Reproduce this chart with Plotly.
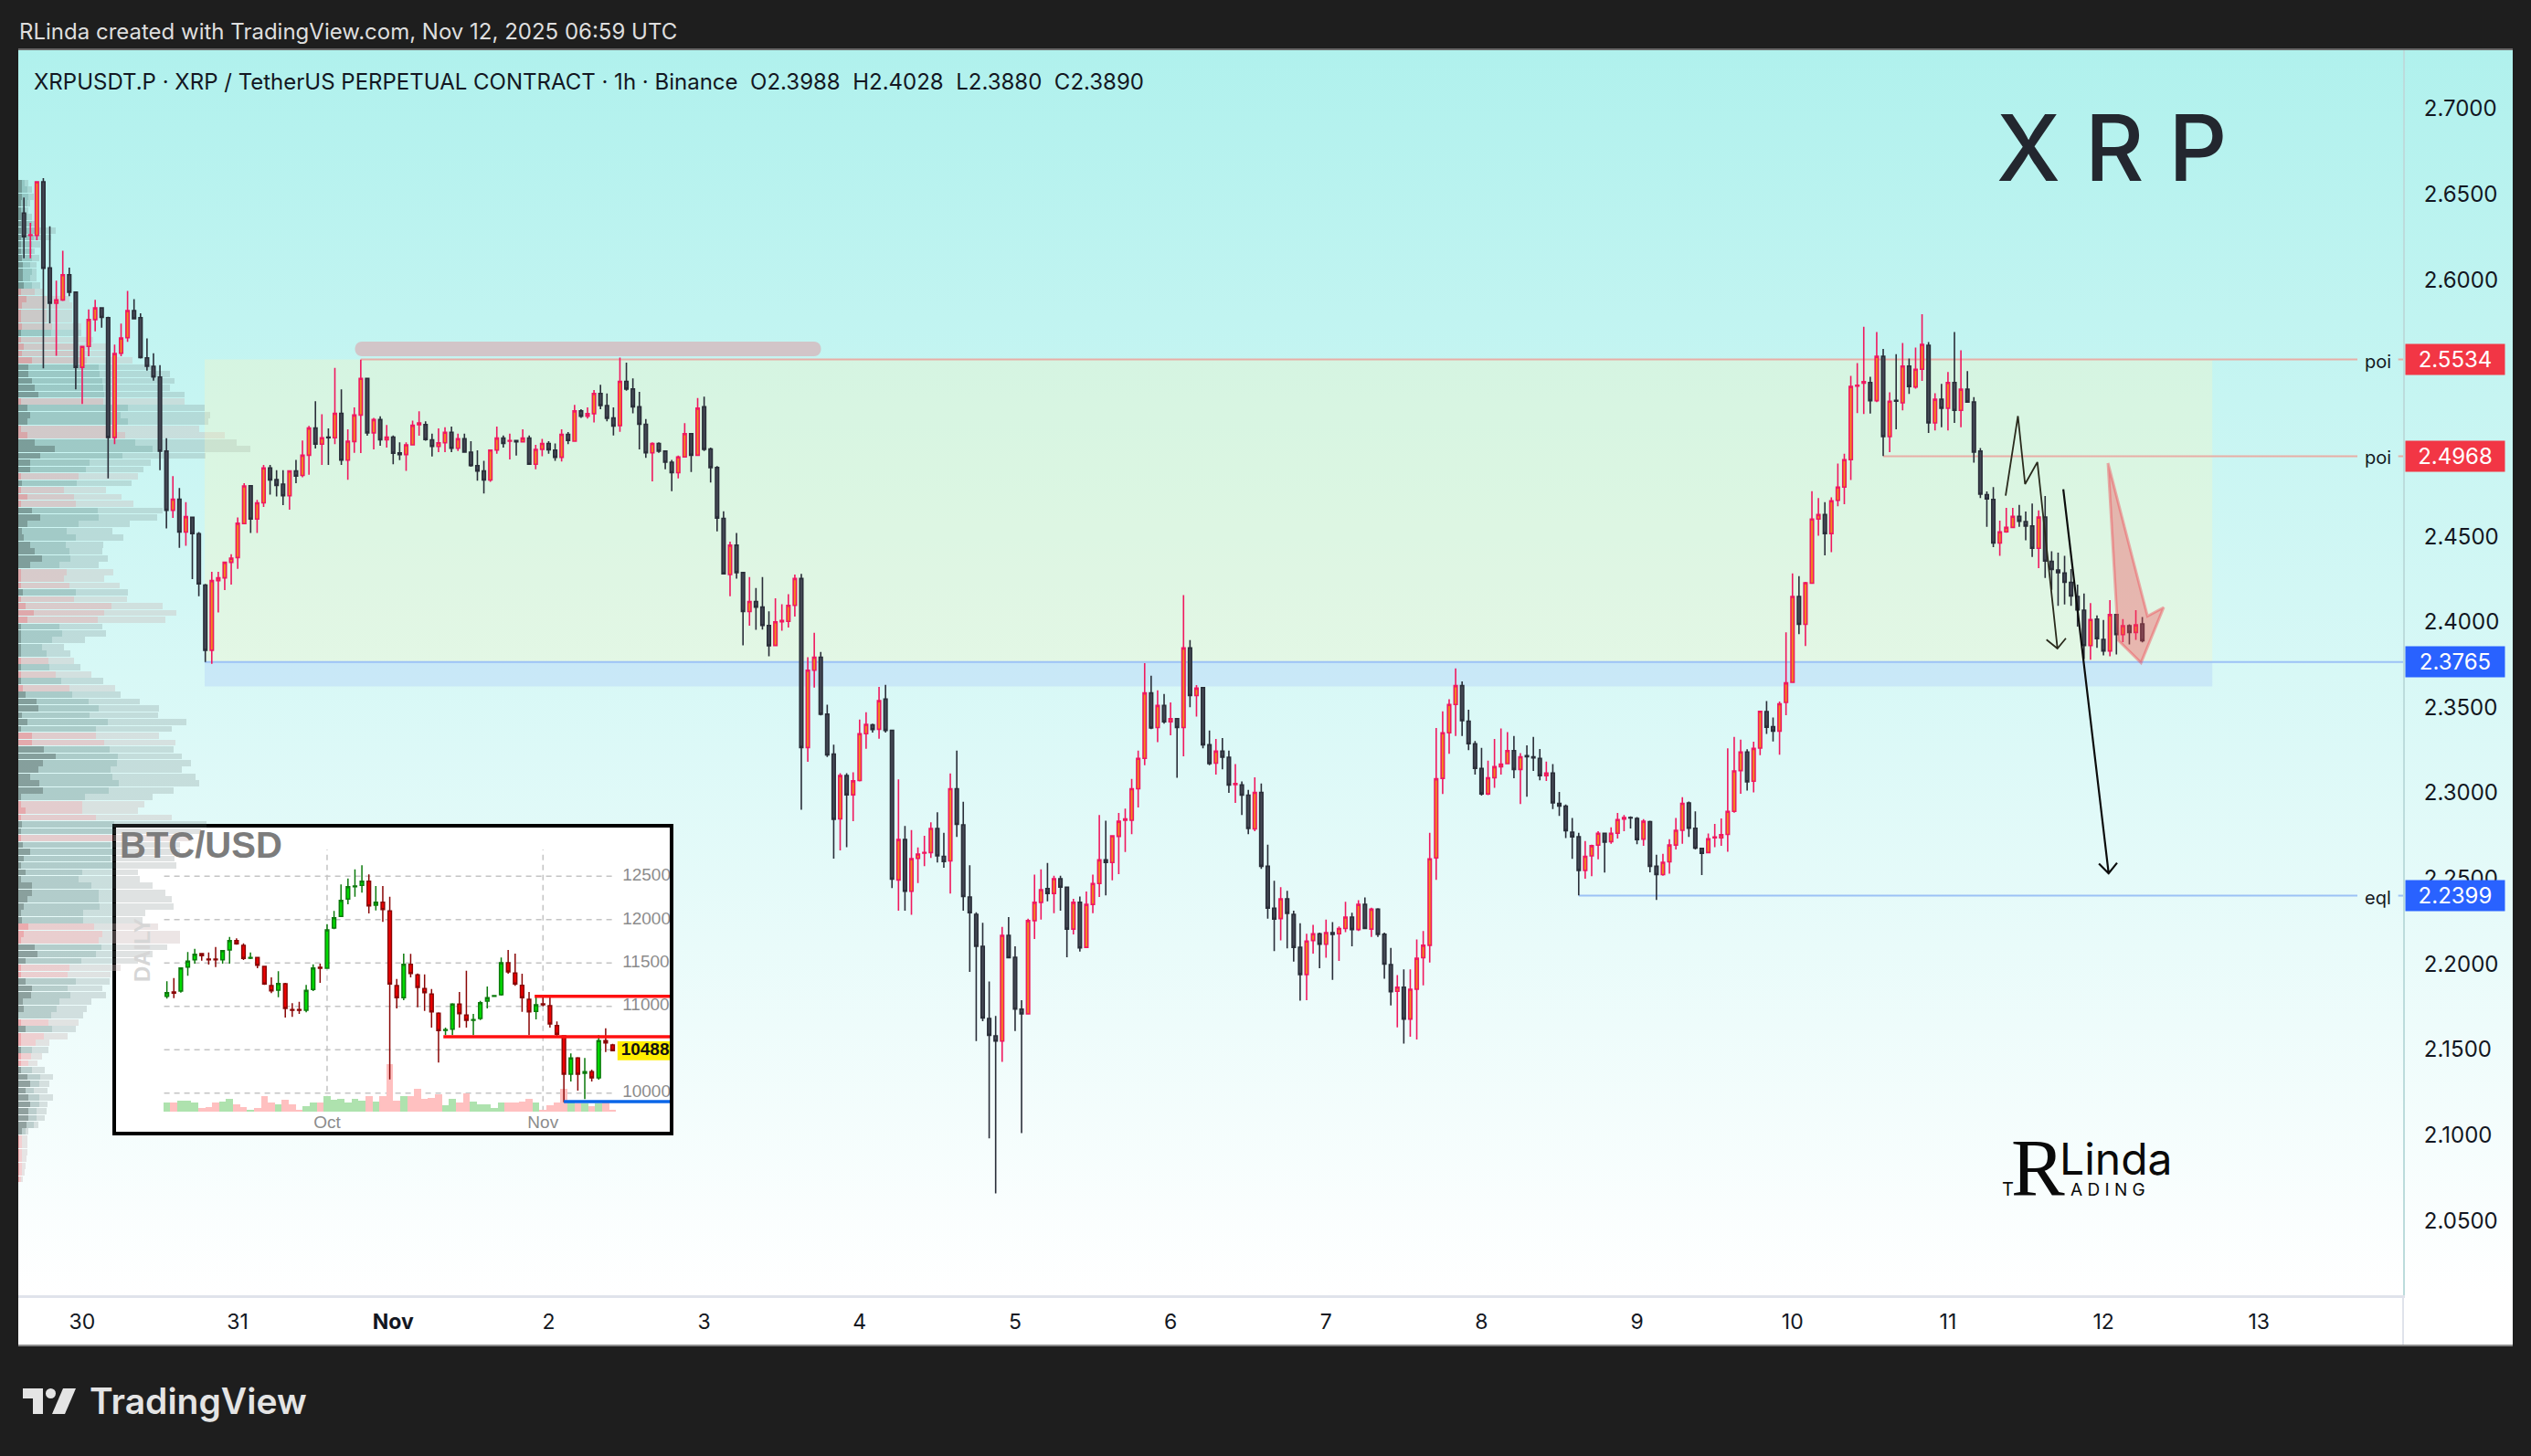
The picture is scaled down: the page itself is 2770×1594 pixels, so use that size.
import plotly.graph_objects as go

W = 2770
H = 1594

# XRP 1h candles, hours counted from Oct 30 00:00
hours = list(range(-9, 319))
opens = [
    2.6390, 2.6259, 2.6259, 2.6573, 2.6069, 2.5863, 2.5882, 2.6029, 2.5927, 2.5488,
    2.5610, 2.5767, 2.5835, 2.5778, 2.5078, 2.5570, 2.5661, 2.5820, 2.5778, 2.5543,
    2.5494, 2.5431, 2.4998, 2.4652, 2.4717, 2.4525, 2.4611, 2.4515, 2.4215, 2.3834,
    2.4241, 2.4257, 2.4348, 2.4376, 2.4574, 2.4796, 2.4601, 2.4696, 2.4900, 2.4831,
    2.4805, 2.4737, 2.4882, 2.4856, 2.4974, 2.5133, 2.5039, 2.5080, 2.5076, 2.5219,
    2.4945, 2.5054, 2.5209, 2.5423, 2.5105, 2.5182, 2.5064, 2.5080, 2.4988, 2.4978,
    2.5035, 2.5153, 2.5153, 2.5064, 2.5025, 2.5047, 2.5108, 2.5015, 2.5070, 2.4992,
    2.4913, 2.4882, 2.4829, 2.5004, 2.5074, 2.5056, 2.5060, 2.5052, 2.5074, 2.4921,
    2.5008, 2.5043, 2.5004, 2.4962, 2.5096, 2.5056, 2.5233, 2.5202, 2.5217, 2.5335,
    2.5264, 2.5192, 2.5147, 2.5406, 2.5361, 2.5257, 2.5155, 2.4988, 2.5043, 2.4998,
    2.4933, 2.4872, 2.4964, 2.5100, 2.4974, 2.5257, 2.5010, 2.4902, 2.4605, 2.4276,
    2.4448, 2.4288, 2.4060, 2.4119, 2.4086, 2.3979, 2.3862, 2.4000, 2.4003, 2.4096,
    2.4253, 2.3265, 2.3717, 2.3793, 2.3460, 2.3227, 2.2848, 2.3101, 2.2989, 2.3072,
    2.3346, 2.3398, 2.3372, 2.3548, 2.3365, 2.2491, 2.2727, 2.2425,
    2.2617, 2.2648, 2.2651, 2.2792, 2.2629, 2.2602, 2.3024, 2.2813, 2.2391, 2.2290,
    2.2103, 2.1681, 2.1580, 2.1549, 2.2167, 2.2039, 2.1736, 2.1708, 2.2253, 2.2360,
    2.2440, 2.2412, 2.2498, 2.2449, 2.2204, 2.2360, 2.2097, 2.2348, 2.2470, 2.2608,
    2.2593, 2.2746, 2.2840, 2.2840, 2.3024, 2.3202, 2.3584, 2.3382, 2.3511, 2.3416,
    2.3434, 2.3382, 2.3847, 2.3569, 2.3615, 2.3281, 2.3174, 2.3244, 2.3208, 2.3049,
    2.3046, 2.2987, 2.2789, 2.3003, 2.2571, 2.2326, 2.2265, 2.2381, 2.2290, 2.2097,
    2.1938, 2.2137, 2.2176, 2.2115, 2.2183, 2.2176, 2.2207, 2.2274, 2.2201, 2.2348,
    2.2204, 2.2320, 2.2173, 2.1996, 2.1840, 2.1864, 2.1678, 2.1852, 2.2036, 2.2109,
    2.2620, 2.3085, 2.3351, 2.3517, 2.3627, 2.3419, 2.3287, 2.3143, 2.2994, 2.3088,
    2.3153, 2.3171, 2.3247, 2.3137, 2.3217, 2.3211, 2.3202, 2.3101, 2.3116, 2.2938,
    2.2923, 2.2770, 2.2743, 2.2547, 2.2632, 2.2694, 2.2764, 2.2715, 2.2764, 2.2847,
    2.2856, 2.2850, 2.2730,
    2.2832, 2.2571, 2.2522, 2.2597, 2.2695, 2.2781, 2.2941, 2.2793, 2.2675, 2.2651,
    2.2737, 2.2737, 2.2757, 2.2892, 2.3130, 2.3239, 2.3068, 2.3262, 2.3475, 2.3387,
    2.3361, 2.3529, 2.3646, 2.4148, 2.3985, 2.4226, 2.4601, 2.4627, 2.4516, 2.4710,
    2.4788, 2.4948, 2.5378, 2.5396, 2.5399, 2.5293, 2.5552, 2.5083, 2.5295, 2.5280,
    2.5495, 2.5373, 2.5477, 2.5617, 2.5163, 2.5301, 2.5249, 2.5399, 2.5236, 2.5360,
    2.5285, 2.4998, 2.4744, 2.4715, 2.4461, 2.4526, 2.4552, 2.4617, 2.4586, 2.4560,
    2.4430, 2.4612, 2.4353, 2.4303, 2.4285, 2.4231, 2.4148, 2.4068, 2.3861, 2.4016,
    2.3897, 2.3830, 2.4042, 2.3925, 2.3977, 2.3938, 2.3988,
]
highs = [
    2.6481, 2.6333, 2.6577, 2.6594, 2.6312, 2.5994, 2.6169, 2.6071, 2.5931, 2.5610,
    2.5827, 2.5882, 2.5839, 2.5784, 2.5621, 2.5743, 2.5935, 2.5886, 2.5804, 2.5657,
    2.5570, 2.5500, 2.5074, 2.4852, 2.4782, 2.4699, 2.4615, 2.4525, 2.4222, 2.4293,
    2.4293, 2.4350, 2.4395, 2.4610, 2.4811, 2.4796, 2.4713, 2.4917, 2.4917, 2.4886,
    2.4886, 2.4886, 2.4947, 2.5060, 2.5145, 2.5290, 2.5213, 2.5131, 2.5484, 2.5359,
    2.5125, 2.5253, 2.5533, 2.5423, 2.5192, 2.5202, 2.5151, 2.5090, 2.5049, 2.5049,
    2.5176, 2.5231, 2.5172, 2.5100, 2.5131, 2.5137, 2.5141, 2.5100, 2.5100, 2.5056,
    2.5002, 2.4941, 2.5008, 2.5141, 2.5090, 2.5100, 2.5060, 2.5125, 2.5090, 2.5035,
    2.5070, 2.5056, 2.5043, 2.5125, 2.5110, 2.5268, 2.5243, 2.5253, 2.5355, 2.5386,
    2.5335, 2.5253, 2.5545, 2.5515, 2.5423, 2.5345, 2.5186, 2.5049, 2.5049, 2.4998,
    2.4947, 2.4972, 2.5162, 2.5100, 2.5308, 2.5317, 2.5019, 2.4911, 2.4646, 2.4468,
    2.4519, 2.4293, 2.4262, 2.4198, 2.4262, 2.4062, 2.4138, 2.4103, 2.4162, 2.4276,
    2.4281, 2.3793, 2.3936, 2.3824, 2.3515, 2.3282, 2.3115, 2.3115, 2.3120, 2.3429,
    2.3472, 2.3405, 2.3620, 2.3631, 2.3370, 2.3079, 2.2806, 2.2782,
    2.2681, 2.2749, 2.2828, 2.2886, 2.2767, 2.3113, 2.3247, 2.2948, 2.2577, 2.2302,
    2.2241, 2.1898, 2.1696, 2.2216, 2.2274, 2.2103, 2.1788, 2.2265, 2.2522, 2.2553,
    2.2590, 2.2516, 2.2516, 2.2449, 2.2381, 2.2394, 2.2424, 2.2522, 2.2871, 2.2837,
    2.2749, 2.2883, 2.2908, 2.3082, 2.3247, 2.3759, 2.3685, 2.3599, 2.3578, 2.3529,
    2.3434, 2.4156, 2.3893, 2.3630, 2.3618, 2.3364, 2.3315, 2.3321, 2.3247, 2.3168,
    2.3067, 2.3018, 2.3091, 2.3055, 2.2697, 2.2486, 2.2449, 2.2427, 2.2311, 2.2238,
    2.2176, 2.2228, 2.2183, 2.2259, 2.2244, 2.2219, 2.2363, 2.2299, 2.2372, 2.2388,
    2.2329, 2.2326, 2.2183, 2.2094, 2.1935, 2.1968, 2.1968, 2.2143, 2.2192, 2.2767,
    2.3379, 2.3477, 2.3547, 2.3728, 2.3651, 2.3486, 2.3303, 2.3263, 2.3189, 2.3315,
    2.3376, 2.3355, 2.3333, 2.3232, 2.3278, 2.3327, 2.3257, 2.3183, 2.3168, 2.3006,
    2.2932, 2.2853, 2.2767, 2.2718, 2.2697, 2.2776, 2.2767, 2.2798, 2.2883, 2.2871,
    2.2862, 2.2859, 2.2847,
    2.2837, 2.2638, 2.2643, 2.2729, 2.2853, 2.2975, 2.2949, 2.2892, 2.2677, 2.2762,
    2.2819, 2.2850, 2.3260, 2.3327, 2.3311, 2.3255, 2.3299, 2.3480, 2.3537, 2.3441,
    2.3534, 2.3938, 2.4283, 2.4267, 2.4234, 2.4764, 2.4723, 2.4700, 2.4728, 2.4925,
    2.4982, 2.5438, 2.5513, 2.5725, 2.5433, 2.5694, 2.5596, 2.5342, 2.5565, 2.5630,
    2.5539, 2.5604, 2.5798, 2.5635, 2.5337, 2.5391, 2.5461, 2.5694, 2.5588, 2.5466,
    2.5314, 2.5016, 2.4762, 2.4788, 2.4591, 2.4666, 2.4666, 2.4684, 2.4645, 2.4692,
    2.4651, 2.4736, 2.4412, 2.4404, 2.4386, 2.4309, 2.4218, 2.4166, 2.4109, 2.4037,
    2.4011, 2.4127, 2.4042, 2.4016, 2.3985, 2.4068, 2.4028,
]
lows = [
    2.6126, 2.6126, 2.6231, 2.5482, 2.5745, 2.5555, 2.5876, 2.5904, 2.5359, 2.5274,
    2.5553, 2.5698, 2.5719, 2.4839, 2.5039, 2.5553, 2.5637, 2.5767, 2.5539, 2.5468,
    2.5410, 2.4886, 2.4546, 2.4607, 2.4433, 2.4444, 2.4250, 2.4150, 2.3765, 2.3755,
    2.4055, 2.4186, 2.4217, 2.4310, 2.4570, 2.4519, 2.4519, 2.4672, 2.4743, 2.4733,
    2.4682, 2.4656, 2.4811, 2.4845, 2.4860, 2.5013, 2.4917, 2.4917, 2.5039, 2.4917,
    2.4831, 2.4988, 2.4986, 2.5088, 2.5008, 2.5029, 2.5019, 2.4921, 2.4945, 2.4882,
    2.5035, 2.5088, 2.5059, 2.4966, 2.4992, 2.4992, 2.4992, 2.4998, 2.4988, 2.4907,
    2.4825, 2.4750, 2.4819, 2.4982, 2.5019, 2.4949, 2.4972, 2.5052, 2.4917, 2.4892,
    2.4968, 2.4982, 2.4941, 2.4937, 2.5039, 2.5052, 2.5192, 2.5188, 2.5166, 2.5243,
    2.5172, 2.5090, 2.5111, 2.5351, 2.5219, 2.5008, 2.4958, 2.4821, 2.4988, 2.4892,
    2.4764, 2.4839, 2.4962, 2.4876, 2.4972, 2.4998, 2.4815, 2.4529, 2.4276, 2.4150,
    2.4253, 2.3862, 2.3977, 2.3953, 2.3955, 2.3798, 2.3862, 2.3948, 2.3967, 2.4031,
    2.2901, 2.3182, 2.3615, 2.3453, 2.3210, 2.2615, 2.2663, 2.2682, 2.2834, 2.3067,
    2.3258, 2.3353, 2.3317, 2.3353, 2.2444, 2.2311, 2.2311, 2.2287,
    2.2473, 2.2571, 2.2620, 2.2593, 2.2562, 2.2412, 2.2743, 2.2311, 2.1953, 2.1549,
    2.1665, 2.0980, 2.0659, 2.1427, 2.2036, 2.1607, 2.1011, 2.1708, 2.2146, 2.2259,
    2.2366, 2.2296, 2.2311, 2.2039, 2.2173, 2.2072, 2.2097, 2.2296, 2.2391, 2.2400,
    2.2489, 2.2525, 2.2654, 2.2758, 2.2914, 2.3162, 2.3373, 2.3296, 2.3404, 2.3336,
    2.3088, 2.3214, 2.3501, 2.3446, 2.3260, 2.3162, 2.3107, 2.3137, 2.3000, 2.2941,
    2.2871, 2.2758, 2.2776, 2.2556, 2.2265, 2.2075, 2.2137, 2.2091, 2.2014, 2.1785,
    2.1788, 2.2060, 2.1975, 2.2036, 2.1907, 2.2017, 2.2186, 2.2103, 2.2192, 2.2204,
    2.2158, 2.2158, 2.1913, 2.1757, 2.1629, 2.1534, 2.1574, 2.1558, 2.1874, 2.2008,
    2.2492, 2.2994, 2.3229, 2.3333, 2.3333, 2.3250, 2.3107, 2.2984, 2.2987, 2.3030,
    2.3107, 2.3168, 2.3085, 2.2935, 2.2978, 2.3128, 2.3073, 2.3070, 2.2905, 2.2865,
    2.2736, 2.2614, 2.2400, 2.2498, 2.2513, 2.2611, 2.2534, 2.2703, 2.2733, 2.2776,
    2.2792, 2.2700, 2.2691,
    2.2535, 2.2374, 2.2516, 2.2527, 2.2669, 2.2703, 2.2742, 2.2669, 2.2519, 2.2646,
    2.2682, 2.2690, 2.2656, 2.2884, 2.2995, 2.3014, 2.3003, 2.3221, 2.3345, 2.3301,
    2.3223, 2.3454, 2.3646, 2.3928, 2.3858, 2.4226, 2.4503, 2.4389, 2.4407, 2.4676,
    2.4687, 2.4829, 2.5220, 2.5215, 2.5218, 2.5285, 2.4969, 2.4992, 2.5125, 2.5236,
    2.5332, 2.5363, 2.5409, 2.5104, 2.5119, 2.5137, 2.5119, 2.5163, 2.5137, 2.5280,
    2.4930, 2.4723, 2.4555, 2.4436, 2.4386, 2.4521, 2.4547, 2.4555, 2.4477, 2.4379,
    2.4314, 2.4257, 2.4187, 2.4094, 2.4101, 2.4094, 2.3972, 2.3783, 2.3778, 2.3848,
    2.3804, 2.3798, 2.3809, 2.3881, 2.3868, 2.3894, 2.3880,
]
closes = [
    2.6251, 2.6263, 2.6573, 2.6067, 2.5863, 2.5882, 2.6029, 2.5927, 2.5488, 2.5610,
    2.5767, 2.5835, 2.5780, 2.5078, 2.5568, 2.5659, 2.5820, 2.5772, 2.5545, 2.5494,
    2.5431, 2.4998, 2.4652, 2.4717, 2.4525, 2.4615, 2.4515, 2.4222, 2.3834, 2.4241,
    2.4257, 2.4348, 2.4372, 2.4576, 2.4794, 2.4601, 2.4696, 2.4900, 2.4829, 2.4798,
    2.4737, 2.4882, 2.4852, 2.4974, 2.5133, 2.5039, 2.5076, 2.5076, 2.5219, 2.4945,
    2.5056, 2.5209, 2.5423, 2.5105, 2.5182, 2.5064, 2.5080, 2.4986, 2.4978, 2.5035,
    2.5149, 2.5162, 2.5066, 2.5025, 2.5047, 2.5108, 2.5015, 2.5070, 2.4992, 2.4913,
    2.4882, 2.4829, 2.5004, 2.5074, 2.5043, 2.5060, 2.5052, 2.5074, 2.4921, 2.5008,
    2.5043, 2.5006, 2.4962, 2.5096, 2.5060, 2.5233, 2.5202, 2.5217, 2.5335, 2.5264,
    2.5190, 2.5145, 2.5406, 2.5361, 2.5257, 2.5155, 2.4988, 2.5043, 2.4998, 2.4933,
    2.4872, 2.4964, 2.5100, 2.4974, 2.5249, 2.5008, 2.4902, 2.4607, 2.4281, 2.4448,
    2.4288, 2.4060, 2.4119, 2.4086, 2.3979, 2.3860, 2.4000, 2.4008, 2.4096, 2.4253,
    2.3265, 2.3717, 2.3793, 2.3460, 2.3222, 2.2846, 2.3101, 2.2989, 2.3070, 2.3346,
    2.3401, 2.3370, 2.3539, 2.3365, 2.2496, 2.2727, 2.2425, 2.2615,
    2.2642, 2.2651, 2.2792, 2.2632, 2.2599, 2.3024, 2.2816, 2.2394, 2.2299, 2.2103,
    2.1684, 2.1583, 2.1549, 2.2167, 2.2036, 2.1736, 2.1708, 2.2253, 2.2360, 2.2434,
    2.2412, 2.2498, 2.2449, 2.2204, 2.2360, 2.2094, 2.2348, 2.2470, 2.2608, 2.2593,
    2.2749, 2.2834, 2.2847, 2.3024, 2.3202, 2.3584, 2.3379, 2.3511, 2.3416, 2.3434,
    2.3382, 2.3847, 2.3569, 2.3612, 2.3281, 2.3171, 2.3244, 2.3208, 2.3046, 2.3055,
    2.2987, 2.2792, 2.3003, 2.2571, 2.2326, 2.2262, 2.2381, 2.2296, 2.2097, 2.1938,
    2.2134, 2.2176, 2.2115, 2.2183, 2.2173, 2.2207, 2.2274, 2.2201, 2.2348, 2.2207,
    2.2320, 2.2173, 2.1999, 2.1837, 2.1864, 2.1678, 2.1852, 2.2033, 2.2109, 2.2614,
    2.3082, 2.3351, 2.3517, 2.3627, 2.3422, 2.3287, 2.3143, 2.2994, 2.3088, 2.3153,
    2.3168, 2.3247, 2.3137, 2.3211, 2.3211, 2.3205, 2.3101, 2.3116, 2.2941, 2.2923,
    2.2779, 2.2743, 2.2547, 2.2629, 2.2691, 2.2764, 2.2712, 2.2764, 2.2844, 2.2856,
    2.2853, 2.2727, 2.2834,
    2.2571, 2.2522, 2.2594, 2.2695, 2.2781, 2.2939, 2.2793, 2.2677, 2.2646, 2.2731,
    2.2742, 2.2755, 2.2892, 2.3128, 2.3239, 2.3065, 2.3260, 2.3477, 2.3384, 2.3361,
    2.3521, 2.3643, 2.4148, 2.3985, 2.4228, 2.4601, 2.4627, 2.4516, 2.4708, 2.4788,
    2.4948, 2.5376, 2.5383, 2.5404, 2.5293, 2.5552, 2.5083, 2.5290, 2.5290, 2.5495,
    2.5376, 2.5477, 2.5622, 2.5163, 2.5301, 2.5249, 2.5399, 2.5236, 2.5360, 2.5285,
    2.4992, 2.4746, 2.4718, 2.4461, 2.4526, 2.4552, 2.4617, 2.4588, 2.4560, 2.4430,
    2.4612, 2.4355, 2.4306, 2.4288, 2.4231, 2.4151, 2.4070, 2.3861, 2.4013, 2.3902,
    2.3830, 2.4042, 2.3925, 2.3977, 2.3938, 2.3982, 2.3890,
]

# 2.50 and 2.55 sit behind the price tags in the reference
price_ticks = [2.05, 2.10, 2.15, 2.20, 2.25, 2.30, 2.35, 2.40, 2.45, 2.60, 2.65, 2.70]
day_hours = [0, 24, 48, 72, 96, 120, 144, 168, 192, 216, 240, 264, 288, 312, 336]
day_labels = ["30", "31", "<b>Nov</b>", "2", "3", "4", "5", "6", "7", "8", "9", "10", "11", "12", "13"]

# levels and hand drawn marks, in (hour, price)
poi_high = 2.5534
poi_low = 2.4968
zone_mid = 2.3765
eql = 2.2399
zone_bottom = 2.3622
zone_hours = [18.9, 328.8]
swing_hours = [296.9, 298.8, 299.9, 301.8, 304.9, 303.2, 304.9, 306.2]
swing_prices = [2.4738, 2.5203, 2.4805, 2.4934, 2.3844, 2.3896, 2.3844, 2.3904]
drop_hours = [305.8, 312.8, 311.3, 312.8, 314.1]
drop_prices = [2.4775, 2.2529, 2.2586, 2.2529, 2.2591]
red_hours = [312.7, 318.8, 321.3, 317.8, 314.3, 312.7]
red_prices = [2.4929, 2.4033, 2.4084, 2.3761, 2.3891, 2.4929]

# volume profile rows, top to bottom, g = green row, r = red row
profile_side = (
    "gggggggggggggggg" "rrrrrr" "g" "rrrr" "ggggg" "r" "ggg" "rr" "ggggg" "r" "g" "rrr"
    "ggggggggg" "rrr" "g" "rrrr" "ggggg" "r" "g" "r" "g" "r" "gggggg" "rr" "gggggggg"
    "rrr" "gg" "r" "gggggggggggg" "rrr" "ggg" "rr" "gggggg" "r" "g" "rr" "g" "rr"
    "gggggggggg" "rrrrrrr"
)
# cumulative ends of the three shades in each row
profile_e1 = [
    38, 38, 38, 36, 36, 36, 36, 36, 36, 36, 36, 38, 40, 40, 40, 42, 36, 46, 38, 37,
    36, 38, 36, 36, 42, 38, 55, 50, 50, 55, 60, 67, 36, 47, 53, 47, 36, 47, 60, 94,
    70, 53, 52, 36, 38, 36, 48, 36, 55, 70, 47, 38, 42, 52,
    60, 72, 52, 36, 36, 36, 40, 36, 45, 58, 48, 36, 36, 36, 36, 36, 36, 36, 36, 36,
    40, 44, 64, 67, 38, 47, 36, 56, 55, 76, 96, 74, 66, 52, 68, 74, 36, 36, 44, 36,
    38, 36, 36, 40, 52, 42, 36, 44, 36, 55, 55, 48, 42, 36, 38, 50, 42, 36, 60, 65,
    45, 36, 36, 44, 56, 54, 40, 42, 32, 36, 45, 36, 36, 36, 36, 36, 36, 48, 52, 44,
    50, 52, 50, 50, 46, 38, 34, 34, 34, 34, 34, 34, 33,
]
profile_e2 = [
    43, 48, 50, 48, 45, 48, 55, 60, 58, 55, 55, 55, 52, 55, 52, 55, 60, 80, 80, 80,
    80, 90, 88, 100, 130, 130, 150, 170, 172, 177, 178, 180, 178, 220, 207, 220, 200, 216, 232, 263,
    210, 155, 148, 136, 132, 110, 128, 130, 168, 170, 136, 115, 130, 114,
    120, 122, 103, 115, 110, 120, 130, 128, 192, 180, 168, 103, 108, 90, 72, 80, 84, 86, 96, 105,
    120, 125, 152, 170, 154, 185, 165, 166, 180, 188, 203, 202, 190, 194, 205, 187, 147, 142, 142, 166,
    196, 195, 195, 190, 195, 190, 195, 141, 136, 158, 170, 170, 171, 143, 143, 162, 176, 170, 175, 165,
    140, 120, 116, 130, 116, 122, 102, 98, 88, 83, 90, 76, 62, 56, 54, 50, 56, 70, 68, 58,
    68, 68, 64, 64, 58, 44, 38, 38, 38, 38, 38, 38, 36,
]
profile_e3 = [
    49, 55, 58, 52, 50, 56, 60, 97, 88, 70, 60, 68, 64, 63, 63, 70, 75, 120, 125, 125,
    125, 140, 140, 160, 185, 190, 228, 260, 293, 300, 292, 317, 317, 352, 362, 358, 343, 386, 406, 431,
    353, 259, 246, 238, 226, 182, 209, 230, 280, 270, 224, 193, 212, 178,
    176, 185, 170, 195, 180, 206, 220, 218, 280, 303, 285, 176, 182, 146, 110, 122, 128, 138, 158, 178,
    198, 207, 240, 273, 272, 320, 295, 273, 302, 298, 312, 328, 313, 336, 343, 298, 262, 248, 238, 295,
    355, 345, 330, 310, 310, 300, 303, 238, 240, 262, 285, 295, 298, 250, 245, 272, 310, 310, 288, 262,
    238, 208, 190, 188, 176, 182, 158, 150, 143, 135, 130, 116, 85, 83, 72, 65, 77, 91, 85, 82,
    91, 82, 80, 77, 66, 50, 47, 47, 47, 46, 45, 43, 40,
]
profile_top_price = 2.6566
profile_step = 0.00399

# BTC/USD daily inset, days counted from Oct 1
btc_days = list(range(-23, 42))
btc_open = [
    111168, 111659, 111764, 114538, 115381, 116083, 115451, 115451, 115381, 116504,
    117593, 117031, 115556, 115627, 114608, 112396, 111869, 112607, 109625, 109625,
    109554, 111940, 114503, 114398, 119032, 120366, 122368, 123807, 123948, 124439,
    121665, 122016, 120998, 112396, 110992, 114854, 113626, 112045, 111413, 109201,
    107235, 107376, 110255, 108991, 108394, 108604, 110606, 111168, 111343, 115029,
    113836, 112431, 110817, 109414, 110290, 110080, 107797, 106603, 102180, 104040,
    102285, 102460, 101758, 106042, 105550,
]
btc_high = [
    112888, 113275, 114468, 116258, 116645, 116153, 116223, 116855, 116504, 118014,
    117838, 117277, 116223, 115697, 114678, 113345, 114047, 112712, 110360, 110536,
    112466, 114854, 114924, 119488, 120998, 124053, 124755, 125808, 126265, 125212,
    123877, 123877, 122648, 113169, 116083, 116048, 113802, 113696, 112010, 109307,
    107551, 110360, 111659, 114117, 109131, 110641, 112291, 111308, 115627, 116504,
    116083, 113766, 111659, 111168, 111062, 111062, 108253, 106673, 104567, 104146,
    104040, 102706, 106673, 107481, 105690,
]
btc_low = [
    110887, 110957, 111589, 113520, 114924, 115275, 114819, 114538, 114924, 114924,
    117101, 115346, 115451, 114398, 112466, 111518, 111062, 108710, 108780, 109131,
    109307, 111764, 112712, 114398, 118892, 120296, 121771, 122648, 123105, 120717,
    121068, 119734, 101582, 109765, 110711, 113345, 109905, 109484, 107551, 103513,
    106673, 106673, 107551, 107551, 106673, 108429, 109765, 111168, 111238, 113766,
    112361, 109379, 106673, 108499, 110010, 107551, 106498, 98949, 101337, 100284,
    99300, 101337, 101547, 104743, 104849,
]
btc_close = [
    111589, 111518, 114433, 115205, 116013, 115837, 115381, 115381, 116434, 117593,
    117207, 115521, 115627, 114749, 112572, 111799, 112642, 109765, 109554, 109554,
    111834, 114433, 114398, 118821, 120226, 122227, 123807, 123877, 124439, 121595,
    122016, 121174, 112572, 110992, 114854, 113802, 112185, 111589, 109379, 107200,
    107306, 110255, 109166, 108394, 108464, 110431, 110992, 111238, 115029, 113977,
    112572, 110992, 109379, 110185, 110185, 107972, 106779, 102180, 104040, 102180,
    102460, 101758, 106042, 105796, 104888,
]
btc_volume = [
    28, 28, 35, 35, 28, 10, 15, 28, 33, 40, 22, 15, 5, 12, 50, 28, 22, 38, 22, 5,
    18, 28, 28, 50, 38, 40, 30, 40, 35, 50, 32, 50, 155, 35, 50, 50, 73, 42, 45, 55,
    20, 40, 30, 58, 32, 22, 22, 12, 30, 28, 28, 33, 40, 28, 5, 20, 28, 75, 28, 25,
    25, 18, 25, 30, 4,
]
btc_ticks = [100000, 105000, 110000, 115000, 120000, 125000]
btc_labels = ["100000", "110000", "115000", "120000", "125000"]
btc_label_prices = [100000, 110000, 115000, 120000, 125000]
btc_red_high = 111168
btc_red_low = 106498
btc_blue = 99019
btc_last = 104888


def dom_x(left, right):
    return [left / W, right / W]


def dom_y(top, bottom):
    return [1 - bottom / H, 1 - top / H]


def px(x):
    return x / W


def py(y):
    return 1 - y / H


def note(text, x, y, size, color, family="Inter", weight=None, **kw):
    return dict(text=text, x=px(x), y=py(y), xref="paper", yref="paper", showarrow=False,
                xanchor=kw.pop("xanchor", "left"), yanchor="middle",
                font=dict(family=family, size=size, color=color, weight=weight), **kw)


def price_tag(price, color):
    return dict(text=f"{price:.4f}", x=px(2632), y=price, xref="paper", yref="y6", showarrow=False,
                xanchor="left", yanchor="middle", width=106, height=31, bgcolor=color,
                font=dict(family="Inter", size=24, color="white"))


def level_label(text, price):
    return dict(text=text, x=px(2586), y=price, xref="paper", yref="y6", yshift=-2, showarrow=False,
                xanchor="left", yanchor="middle",
                font=dict(family="Inter", size=20, color="#131722"))


fig = go.Figure()

# panel background
fig.add_trace(go.Scatter(
    x=[0, 1, 1, 0, 0], y=[0, 0, 1, 1, 0], xaxis="x", yaxis="y", mode="lines", fill="toself",
    line=dict(width=0), showlegend=False, hoverinfo="skip",
    fillgradient=dict(type="vertical", colorscale=[[0, "#ffffff"], [0.04, "#ffffff"], [1, "#b0f1ed"]]),
))

# inset backdrop
inset_range_x = [-30.3, 49.2]
inset_range_y = [95544, 130614]
fig.add_trace(go.Scatter(
    x=[inset_range_x[0], inset_range_x[1], inset_range_x[1], inset_range_x[0], inset_range_x[0]],
    y=[inset_range_y[0], inset_range_y[0], inset_range_y[1], inset_range_y[1], inset_range_y[0]],
    xaxis="x2", yaxis="y2", mode="lines", fill="toself", fillcolor="white",
    line=dict(width=0), showlegend=False, hoverinfo="skip",
))
for tick in btc_ticks:
    fig.add_trace(go.Scatter(
        x=[-23.4, 41.5], y=[tick, tick], xaxis="x2", yaxis="y2", mode="lines",
        line=dict(color="#c4c4c4", width=1.5, dash="6px,5px"), showlegend=False, hoverinfo="skip",
    ))
for day in [0, 31]:
    fig.add_trace(go.Scatter(
        x=[day, day], y=[97896, 128090], xaxis="x2", yaxis="y2", mode="lines",
        line=dict(color="#c4c4c4", width=1.5, dash="6px,5px"), showlegend=False, hoverinfo="skip",
    ))

# inset volume and candles
volume_base = 97896
volume_scale = 35.11
fig.add_trace(go.Bar(
    x=btc_days, y=[v * volume_scale for v in btc_volume], base=volume_base, xaxis="x3", yaxis="y3",
    marker=dict(color=["#aee2ae" if c >= o else "#ffc0c0" for o, c in zip(btc_open, btc_close)], line_width=0),
    width=1.0, showlegend=False, hoverinfo="skip",
))
fig.add_trace(go.Candlestick(
    x=btc_days, open=btc_open, high=btc_high, low=btc_low, close=btc_close, xaxis="x3", yaxis="y3",
    increasing=dict(line=dict(color="#0c7a0c", width=1.5), fillcolor="#00dd00"),
    decreasing=dict(line=dict(color="#8a0606", width=1.5), fillcolor="#ee0000"),
    whiskerwidth=0, showlegend=False, hoverinfo="skip",
))
fig.add_trace(go.Scatter(
    x=[16.7, 49.2, None, 29.8, 49.2], y=[btc_red_low, btc_red_low, None, btc_red_high, btc_red_high],
    xaxis="x3", yaxis="y3", mode="lines", line=dict(color="#ff1010", width=3.5),
    showlegend=False, hoverinfo="skip",
))
fig.add_trace(go.Scatter(
    x=[34, 49.2], y=[btc_blue, btc_blue], xaxis="x3", yaxis="y3", mode="lines",
    line=dict(color="#0a66e8", width=3.5), showlegend=False, hoverinfo="skip",
))
fig.add_trace(go.Scatter(
    x=[41.7, 49.2, 49.2, 41.7, 41.7], y=[103794, 103794, 105971, 105971, 103794], xaxis="x3", yaxis="y3",
    mode="lines", fill="toself", fillcolor="#ffee00", line=dict(width=0), showlegend=False, hoverinfo="skip",
))
fig.add_trace(go.Scatter(
    x=[42.4] * len(btc_labels), y=btc_label_prices, text=btc_labels, xaxis="x3", yaxis="y3",
    mode="text", textposition="middle right", textfont=dict(family="Liberation Sans", size=19, color="#8c8c8c"),
    showlegend=False, hoverinfo="skip",
))
fig.add_trace(go.Scatter(
    x=[42.2], y=[btc_last], text=[f"<b>{btc_last}</b>"], xaxis="x3", yaxis="y3",
    mode="text", textposition="middle right", textfont=dict(family="Liberation Sans", size=19, color="#111111"),
    showlegend=False, hoverinfo="skip",
))
fig.add_trace(go.Scatter(
    x=[0, 31], y=[96491, 96491], text=["Oct", "Nov"], xaxis="x3", yaxis="y3",
    mode="text", textposition="middle center", textfont=dict(family="Liberation Sans", size=19, color="#8c8c8c"),
    showlegend=False, hoverinfo="skip",
))

# volume profile
profile_prices = [profile_top_price - i * profile_step for i in range(len(profile_e1))]
seg_a = profile_e1
seg_b = [b - a for a, b in zip(profile_e1, profile_e2)]
seg_c = [c - b for b, c in zip(profile_e2, profile_e3)]
seg_colors = [
    ("rgba(45,70,66,0.5)", "rgba(238,60,70,0.42)"),
    ("rgba(60,100,95,0.3)", "rgba(235,70,80,0.25)"),
    ("rgba(110,125,125,0.22)", "rgba(200,180,180,0.35)"),
]
for seg, (green, red) in zip([seg_a, seg_b, seg_c], seg_colors):
    fig.add_trace(go.Bar(
        y=profile_prices, x=seg, orientation="h", xaxis="x4", yaxis="y4", width=0.0036,
        marker=dict(color=[red if s == "r" else green for s in profile_side], line_width=0),
        showlegend=False, hoverinfo="skip",
    ))

# zones and levels, under the candles
fig.add_trace(go.Scatter(
    x=[zone_hours[0], zone_hours[1], zone_hours[1], zone_hours[0], zone_hours[0]],
    y=[zone_mid, zone_mid, poi_high, poi_high, zone_mid], xaxis="x5", yaxis="y5", mode="lines",
    fill="toself", fillcolor="rgba(255,245,190,0.3)", line=dict(width=0), showlegend=False, hoverinfo="skip",
))
fig.add_trace(go.Scatter(
    x=[zone_hours[0], zone_hours[1], zone_hours[1], zone_hours[0], zone_hours[0]],
    y=[zone_bottom, zone_bottom, zone_mid, zone_mid, zone_bottom], xaxis="x5", yaxis="y5", mode="lines",
    fill="toself", fillcolor="rgba(175,205,250,0.38)", line=dict(width=0), showlegend=False, hoverinfo="skip",
))
fig.add_trace(go.Scatter(
    x=[43, 351.2, None, 357.5, 358.3, None, 278, 351.2, None, 357.5, 358.3],
    y=[poi_high, poi_high, None, poi_high, poi_high, None, poi_low, poi_low, None, poi_low, poi_low],
    xaxis="x5", yaxis="y5", mode="lines", line=dict(color="#e8aea6", width=2), showlegend=False, hoverinfo="skip",
))
fig.add_trace(go.Scatter(
    x=[zone_hours[0], 358.3, None, 231, 351.2, None, 357.5, 358.3],
    y=[zone_mid, zone_mid, None, eql, eql, None, eql, eql],
    xaxis="x5", yaxis="y5", mode="lines", line=dict(color="#9cc2f6", width=2), showlegend=False, hoverinfo="skip",
))

# main candles
fig.add_trace(go.Candlestick(
    x=hours, open=opens, high=highs, low=lows, close=closes, xaxis="x6", yaxis="y6",
    increasing=dict(line=dict(color="#f0185f", width=1.6), fillcolor="#f28a1c"),
    decreasing=dict(line=dict(color="#2a2e39", width=1.6), fillcolor="#454955"),
    whiskerwidth=0, showlegend=False, hoverinfo="skip",
))

# drawings on top
fig.add_trace(go.Scatter(
    x=swing_hours, y=swing_prices, xaxis="x6", yaxis="y6", mode="lines",
    line=dict(color="#2a2a1c", width=1.8), showlegend=False, hoverinfo="skip",
))
fig.add_trace(go.Scatter(
    x=drop_hours, y=drop_prices, xaxis="x6", yaxis="y6", mode="lines",
    line=dict(color="#0c0c0c", width=2.2), showlegend=False, hoverinfo="skip",
))
fig.add_trace(go.Scatter(
    x=red_hours, y=red_prices, xaxis="x6", yaxis="y6", mode="lines", fill="toself",
    fillcolor="rgba(240,70,80,0.36)", line=dict(color="rgba(240,70,80,0.42)", width=3),
    showlegend=False, hoverinfo="skip",
))

hidden = dict(visible=False, fixedrange=True)
pane_x = dom_x(20, 2630)
pane_y = dom_y(54, 1418)
inset_x = dom_x(127, 733)
inset_y = dom_y(906, 1239)
price_range = [2.0063, 2.7347]
hour_range = [-9.87, 358.25]

# grey pill above the highs
pill = (
    f"M {px(396)} {py(374)} L {px(891)} {py(374)} "
    f"C {px(901)} {py(374)} {px(901)} {py(390)} {px(891)} {py(390)} "
    f"L {px(396)} {py(390)} "
    f"C {px(386)} {py(390)} {px(386)} {py(374)} {px(396)} {py(374)} Z"
)
tv_logo = [
    f"M {px(25)} {py(1520)} L {px(47)} {py(1520)} L {px(47)} {py(1548)} L {px(36)} {py(1548)} "
    f"L {px(36)} {py(1531)} L {px(25)} {py(1531)} Z",
    f"M {px(69)} {py(1520)} L {px(83)} {py(1520)} L {px(71)} {py(1548)} L {px(57)} {py(1548)} Z",
]

shapes = [
    dict(type="path", path=pill, xref="paper", yref="paper", fillcolor="#d2c5c8", line_width=0),
    dict(type="line", x0=px(2630), x1=px(2630), y0=py(1418), y1=py(1473), xref="paper", yref="paper",
         line=dict(color="#e0e3eb", width=2)),
    dict(type="line", x0=px(20), x1=px(2750), y0=py(54), y1=py(54), xref="paper", yref="paper",
         line=dict(color="#6a6a6a", width=2)),
    dict(type="line", x0=px(20), x1=px(2750), y0=py(1473), y1=py(1473), xref="paper", yref="paper",
         line=dict(color="#8a8a8a", width=2)),
    dict(type="path", path=tv_logo[0], xref="paper", yref="paper", fillcolor="#e4e4e4", line_width=0),
    dict(type="path", path=tv_logo[1], xref="paper", yref="paper", fillcolor="#e4e4e4", line_width=0),
    dict(type="circle", x0=px(50), x1=px(61), y0=py(1531), y1=py(1520), xref="paper", yref="paper",
         fillcolor="#e4e4e4", line_width=0),
]

annotations = [
    note("RLinda created with TradingView.com, Nov 12, 2025 06:59 UTC", 19, 35, 24, "#dedede"),
    note("XRPUSDT.P · XRP / TetherUS PERPETUAL CONTRACT · 1h · Binance  O2.3988  H2.4028  L2.3880  C2.3890",
         35, 90, 24, "#131722"),
    note("X R P", 2183, 161, 100, "#23272f", weight=500),
    note("R", 2199, 1278, 88, "#0a0a0a", family="Liberation Serif"),
    note("Linda", 2252, 1268, 48, "#0a0a0a"),
    note("T", 2189, 1302, 20, "#0a0a0a"),
    note("A D I N G", 2264, 1302, 19, "#0a0a0a"),
    note("TradingView", 96, 1533, 39, "#e4e4e4", weight=600),
    note("<b>BTC/USD</b>", 129, 925, 40, "#7c7c7c", family="Liberation Sans"),
    note("<b>DAILY</b>", 155, 1040, 24, "#d6d6d6", family="Liberation Sans", xanchor="center", textangle=-90),
    price_tag(poi_high, "#f23645"),
    price_tag(poi_low, "#f23645"),
    price_tag(zone_mid, "#2962ff"),
    price_tag(eql, "#2962ff"),
    level_label("poi", poi_high),
    level_label("poi", poi_low),
    level_label("eql", eql),
]

fig.update_layout(
    width=W, height=H, margin=dict(l=0, r=0, t=0, b=0), autosize=False,
    paper_bgcolor="#1e1e1e", plot_bgcolor="rgba(0,0,0,0)",
    barmode="stack", boxgap=0.3, showlegend=False, hovermode=False,
    shapes=shapes, annotations=annotations,
    xaxis=dict(domain=dom_x(20, 2750), range=[0, 1], anchor="y", **hidden),
    yaxis=dict(domain=dom_y(54, 1473), range=[0, 1], anchor="x", **hidden),
    xaxis2=dict(domain=inset_x, range=inset_range_x, anchor="y2", **hidden),
    yaxis2=dict(domain=inset_y, range=inset_range_y, anchor="x2", **hidden),
    xaxis3=dict(domain=inset_x, range=inset_range_x, anchor="y3", showgrid=False, zeroline=False,
                showticklabels=False, ticks="", showline=True, mirror=True, linecolor="#000000",
                linewidth=4, rangeslider=dict(visible=False), fixedrange=True),
    yaxis3=dict(domain=inset_y, range=inset_range_y, anchor="x3", showgrid=False, zeroline=False,
                showticklabels=False, ticks="", showline=True, mirror=True, linecolor="#000000",
                linewidth=4, fixedrange=True),
    xaxis4=dict(domain=pane_x, range=[32, 4124], anchor="y4", **hidden),
    yaxis4=dict(domain=pane_y, range=price_range, anchor="x4", **hidden),
    xaxis5=dict(domain=pane_x, range=hour_range, anchor="y5", **hidden),
    yaxis5=dict(domain=pane_y, range=price_range, anchor="x5", **hidden),
    xaxis6=dict(domain=pane_x, range=hour_range, anchor="y6", tickvals=day_hours, ticktext=day_labels,
                tickfont=dict(family="Inter", size=23, color="#131722"), ticks="outside", ticklen=6,
                tickcolor="rgba(0,0,0,0)", showgrid=False, zeroline=False, showline=True,
                linecolor="#e0e3eb", linewidth=3, rangeslider=dict(visible=False), fixedrange=True),
    yaxis6=dict(domain=pane_y, range=price_range, anchor="x6", side="right", tickvals=price_ticks,
                tickformat=".4f", tickfont=dict(family="Inter", size=24, color="#131722"),
                ticks="outside", ticklen=16, tickcolor="rgba(0,0,0,0)", showgrid=False, zeroline=False,
                showline=True, linecolor="#bcdcdc", linewidth=2, fixedrange=True),
)

fig.write_html("out.html", config={"displayModeBar": False},
               post_script="document.body.style.margin='0';")
